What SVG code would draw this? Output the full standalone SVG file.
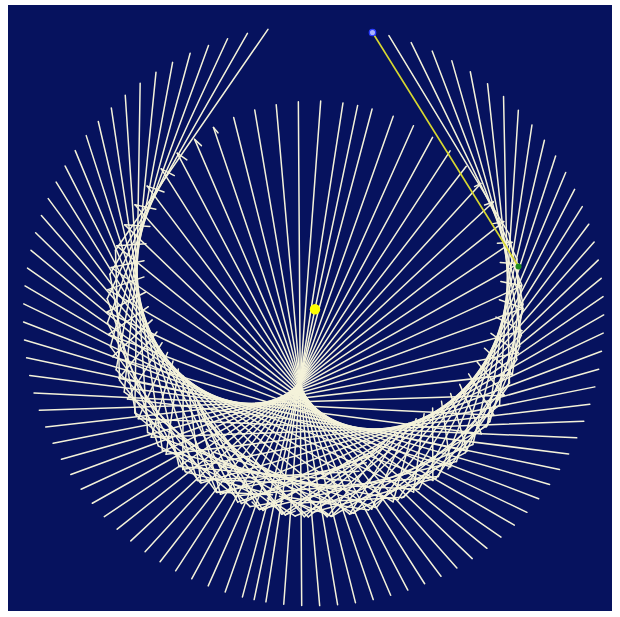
<svg xmlns="http://www.w3.org/2000/svg" width="620" height="617" viewBox="0 0 620 617">
<defs>
<g id="k37"><line x1="204.86" y1="195.5" x2="204.86" y2="-35.98" transform="rotate(-9.96)"/><line x1="204.86" y1="35.98" x2="204.86" y2="-35.98" transform="rotate(-29.88)"/><line x1="204.86" y1="35.98" x2="204.86" y2="-35.98" transform="rotate(-49.8)"/></g>
<g id="k40"><line x1="203.34" y1="197.2" x2="203.34" y2="-43.76" transform="rotate(-12.14)"/><line x1="203.34" y1="43.76" x2="203.34" y2="-43.76" transform="rotate(-36.42)"/><line x1="203.34" y1="43.76" x2="203.34" y2="-43.76" transform="rotate(-60.7)"/></g>
<g id="k43"><line x1="201.61" y1="199" x2="201.61" y2="-51.15" transform="rotate(-14.23)"/><line x1="201.61" y1="51.15" x2="201.61" y2="-51.15" transform="rotate(-42.69)"/><line x1="201.61" y1="51.15" x2="201.61" y2="-51.15" transform="rotate(-71.15)"/></g>
<g id="k46"><line x1="199.68" y1="201.1" x2="199.68" y2="-58.22" transform="rotate(-16.25)"/><line x1="199.68" y1="58.22" x2="199.68" y2="-58.22" transform="rotate(-48.75)"/><line x1="199.68" y1="58.22" x2="199.68" y2="-58.22" transform="rotate(-81.25)"/></g>
<g id="k49"><line x1="197.58" y1="203.4" x2="197.58" y2="-65" transform="rotate(-18.21)"/><line x1="197.58" y1="65" x2="197.58" y2="-65" transform="rotate(-54.63)"/><line x1="197.58" y1="65" x2="197.58" y2="-65" transform="rotate(-91.05)"/></g>
<g id="k52"><line x1="195.31" y1="205.9" x2="195.31" y2="-71.55" transform="rotate(-20.12)"/><line x1="195.31" y1="71.55" x2="195.31" y2="-71.55" transform="rotate(-60.36)"/><line x1="195.31" y1="71.55" x2="195.31" y2="-58.24" transform="rotate(-100.6)"/></g>
<g id="k55"><line x1="192.88" y1="208.5" x2="192.88" y2="-77.88" transform="rotate(-21.99)"/><line x1="192.88" y1="77.88" x2="192.88" y2="-77.88" transform="rotate(-65.97)"/><line x1="192.88" y1="77.88" x2="192.88" y2="-26.64" transform="rotate(-109.95)"/></g>
<g id="k58"><line x1="190.28" y1="211.2" x2="190.28" y2="-84.01" transform="rotate(-23.82)"/><line x1="190.28" y1="84.01" x2="190.28" y2="-84.01" transform="rotate(-71.46)"/><line x1="190.28" y1="84.01" x2="190.28" y2="4.03" transform="rotate(-119.1)"/></g>
<g id="k61"><line x1="187.53" y1="214" x2="187.53" y2="-89.96" transform="rotate(-25.63)"/><line x1="187.53" y1="89.96" x2="187.53" y2="-89.96" transform="rotate(-76.89)"/><line x1="187.53" y1="89.96" x2="187.53" y2="33.82" transform="rotate(-128.15)"/></g>
<g id="k64"><line x1="184.66" y1="216.8" x2="184.66" y2="-95.74" transform="rotate(-27.41)"/><line x1="184.66" y1="95.74" x2="184.66" y2="-95.74" transform="rotate(-82.23)"/><line x1="184.66" y1="95.74" x2="184.66" y2="62.61" transform="rotate(-137.05)"/></g>
<g id="k67"><line x1="181.63" y1="219.8" x2="181.63" y2="-101.36" transform="rotate(-29.16)"/><line x1="181.63" y1="101.36" x2="181.63" y2="-101.36" transform="rotate(-87.48)"/><line x1="181.63" y1="101.36" x2="181.63" y2="90.82" transform="rotate(-145.8)"/></g>
<g id="k70"><line x1="178.48" y1="222.8" x2="178.48" y2="-106.81" transform="rotate(-30.9)"/><line x1="178.48" y1="106.81" x2="178.48" y2="-95.49" transform="rotate(-92.7)"/></g>
<g id="k73"><line x1="175.2" y1="225.9" x2="175.2" y2="-112.11" transform="rotate(-32.62)"/><line x1="175.2" y1="112.11" x2="175.2" y2="-79.6" transform="rotate(-97.86)"/></g>
<g id="k76"><line x1="171.79" y1="228.9" x2="171.79" y2="-117.27" transform="rotate(-34.32)"/><line x1="171.79" y1="117.27" x2="171.79" y2="-64.26" transform="rotate(-102.96)"/></g>
<g id="k79"><line x1="168.25" y1="232" x2="168.25" y2="-122.3" transform="rotate(-36.01)"/><line x1="168.25" y1="122.3" x2="168.25" y2="-49.16" transform="rotate(-108.03)"/></g>
<g id="k82"><line x1="164.59" y1="235.2" x2="164.59" y2="-127.17" transform="rotate(-37.69)"/><line x1="164.59" y1="127.17" x2="164.59" y2="-34.59" transform="rotate(-113.07)"/></g>
<g id="k85"><line x1="160.8" y1="238.2" x2="160.8" y2="-131.91" transform="rotate(-39.36)"/><line x1="160.8" y1="131.91" x2="160.8" y2="-20.31" transform="rotate(-118.08)"/></g>
<g id="k88"><line x1="156.94" y1="241.3" x2="156.94" y2="-136.51" transform="rotate(-41.01)"/><line x1="156.94" y1="136.51" x2="156.94" y2="-6.55" transform="rotate(-123.03)"/></g>
<g id="k91"><line x1="152.92" y1="244.4" x2="152.92" y2="-140.98" transform="rotate(-42.67)"/><line x1="152.92" y1="140.98" x2="152.92" y2="7.05" transform="rotate(-128.01)"/></g>
<g id="k94"><line x1="148.82" y1="247.4" x2="148.82" y2="-145.31" transform="rotate(-44.32)"/><line x1="148.82" y1="145.31" x2="148.82" y2="20.05" transform="rotate(-132.96)"/></g>
<g id="k97"><line x1="144.6" y1="250.4" x2="144.6" y2="-149.51" transform="rotate(-45.95)"/><line x1="144.6" y1="149.51" x2="144.6" y2="32.59" transform="rotate(-137.85)"/></g>
<g id="k100"><line x1="140.3" y1="253.3" x2="140.3" y2="-153.57" transform="rotate(-47.59)"/><line x1="140.3" y1="153.57" x2="140.3" y2="44.69" transform="rotate(-142.77)"/></g>
<g id="k103"><line x1="135.89" y1="256.2" x2="135.89" y2="-157.48" transform="rotate(-49.21)"/><line x1="135.89" y1="157.48" x2="135.89" y2="56.44" transform="rotate(-147.63)"/></g>
<g id="k106"><line x1="131.37" y1="259" x2="131.37" y2="-161.26" transform="rotate(-50.83)"/><line x1="131.37" y1="161.26" x2="131.37" y2="67.79" transform="rotate(-152.49)"/></g>
<g id="k109"><line x1="126.78" y1="261.8" x2="126.78" y2="-164.9" transform="rotate(-52.44)"/><line x1="126.78" y1="164.9" x2="126.78" y2="78.69" transform="rotate(-157.32)"/></g>
<g id="k112"><line x1="122.08" y1="264.5" x2="122.08" y2="-168.4" transform="rotate(-54.06)"/><line x1="122.08" y1="168.4" x2="122.08" y2="89.18" transform="rotate(-162.18)"/></g>
<g id="k115"><line x1="117.31" y1="267.1" x2="117.31" y2="-171.77" transform="rotate(-55.67)"/><line x1="117.31" y1="171.77" x2="117.31" y2="99.32" transform="rotate(-167.01)"/></g>
<g id="k118"><line x1="112.47" y1="269.6" x2="112.47" y2="-174.97" transform="rotate(-57.27)"/><line x1="112.47" y1="174.97" x2="112.47" y2="108.9" transform="rotate(-171.81)"/></g>
<g id="k121"><line x1="107.54" y1="272" x2="107.54" y2="-178.05" transform="rotate(-58.87)"/><line x1="107.54" y1="178.05" x2="107.54" y2="118.15" transform="rotate(-176.61)"/></g>
<g id="k124"><line x1="102.52" y1="274.4" x2="102.52" y2="-180.98" transform="rotate(-60.47)"/><line x1="102.52" y1="180.98" x2="102.52" y2="126.94" transform="rotate(-181.41)"/></g>
<g id="k127"><line x1="97.43" y1="276.6" x2="97.43" y2="-183.77" transform="rotate(-62.07)"/><line x1="97.43" y1="183.77" x2="97.43" y2="135.29" transform="rotate(-186.21)"/></g>
<g id="k130"><line x1="92.27" y1="278.8" x2="92.27" y2="-186.41" transform="rotate(-63.67)"/><line x1="92.27" y1="186.41" x2="92.27" y2="143.24" transform="rotate(-191.01)"/></g>
<g id="k133"><line x1="87.05" y1="280.8" x2="87.05" y2="-188.88" transform="rotate(-65.26)"/><line x1="87.05" y1="188.88" x2="87.05" y2="150.65" transform="rotate(-195.78)"/></g>
<g id="k136"><line x1="81.81" y1="282.7" x2="81.81" y2="-191.24" transform="rotate(-66.84)"/><line x1="81.81" y1="191.24" x2="81.81" y2="157.7" transform="rotate(-200.52)"/></g>
<g id="k139"><line x1="76.48" y1="284.6" x2="76.48" y2="-193.42" transform="rotate(-68.43)"/><line x1="76.48" y1="193.42" x2="76.48" y2="164.25" transform="rotate(-205.29)"/></g>
<g id="k142"><line x1="71.07" y1="286.3" x2="71.07" y2="-195.46" transform="rotate(-70.02)"/><line x1="71.07" y1="195.46" x2="71.07" y2="170.36" transform="rotate(-210.06)"/></g>
<g id="k145"><line x1="65.62" y1="287.9" x2="65.62" y2="-197.35" transform="rotate(-71.61)"/><line x1="65.62" y1="197.35" x2="65.62" y2="176.04" transform="rotate(-214.83)"/></g>
<g id="k148"><line x1="60.15" y1="289.3" x2="60.15" y2="-199.1" transform="rotate(-73.19)"/><line x1="60.15" y1="199.1" x2="60.15" y2="181.3" transform="rotate(-219.57)"/></g>
<g id="k151"><line x1="54.68" y1="290.7" x2="54.68" y2="-200.68" transform="rotate(-74.76)"/><line x1="54.68" y1="200.68" x2="54.68" y2="186.03" transform="rotate(-224.28)"/></g>
<g id="k154"><line x1="49.13" y1="291.9" x2="49.13" y2="-202.11" transform="rotate(-76.34)"/><line x1="49.13" y1="202.11" x2="49.13" y2="190.35" transform="rotate(-229.02)"/></g>
<g id="k157"><line x1="43.6" y1="292.9" x2="43.6" y2="-203.38" transform="rotate(-77.9)"/><line x1="43.6" y1="203.38" x2="43.6" y2="194.15" transform="rotate(-233.7)"/></g>
<g id="k160"><line x1="37.98" y1="293.9" x2="37.98" y2="-204.51" transform="rotate(-79.48)"/><line x1="37.98" y1="204.51" x2="37.98" y2="197.5" transform="rotate(-238.44)"/></g>
<g id="k163"><line x1="32.26" y1="294.7" x2="32.26" y2="-205.48" transform="rotate(-81.08)"/></g>
<g id="k166"><line x1="26.58" y1="295.4" x2="26.58" y2="-206.29" transform="rotate(-82.66)"/></g>
<g id="k169"><line x1="20.99" y1="295.9" x2="20.99" y2="-206.94" transform="rotate(-84.21)"/></g>
<g id="k172"><line x1="15.27" y1="296.4" x2="15.27" y2="-207.44" transform="rotate(-85.79)"/></g>
<g id="k175"><line x1="9.55" y1="296.7" x2="9.55" y2="-207.78" transform="rotate(-87.37)"/></g>
<g id="k178"><line x1="3.81" y1="296.9" x2="3.81" y2="-207.97" transform="rotate(-88.95)"/></g>
<g id="k180"><line x1="0" y1="296.9" x2="0" y2="-208" transform="rotate(-90)"/></g>
</defs>
<rect x="0" y="0" width="620" height="617" fill="#ffffff"/>
<rect id="panel" x="8" y="5" width="604" height="606" fill="#06125e"/>
<g id="rays" stroke="#f4f2da" stroke-width="1.5" stroke-linecap="round" fill="none">
<g id="left-rays">
<use href="#k49" transform="translate(315 309) rotate(-127.17)"/>
<use href="#k52" transform="translate(315 309) rotate(-130.17)"/>
<use href="#k55" transform="translate(315 309) rotate(-133.17)"/>
<use href="#k58" transform="translate(315 309) rotate(-136.17)"/>
<use href="#k61" transform="translate(315 309) rotate(-139.17)"/>
<use href="#k64" transform="translate(315 309) rotate(-142.17)"/>
<use href="#k67" transform="translate(315 309) rotate(-145.17)"/>
<use href="#k70" transform="translate(315 309) rotate(-148.17)"/>
<use href="#k73" transform="translate(315 309) rotate(-151.17)"/>
<use href="#k76" transform="translate(315 309) rotate(-154.17)"/>
<use href="#k79" transform="translate(315 309) rotate(-157.17)"/>
<use href="#k82" transform="translate(315 309) rotate(-160.17)"/>
<use href="#k85" transform="translate(315 309) rotate(-163.17)"/>
<use href="#k88" transform="translate(315 309) rotate(-166.17)"/>
<use href="#k91" transform="translate(315 309) rotate(-169.17)"/>
<use href="#k94" transform="translate(315 309) rotate(-172.17)"/>
<use href="#k97" transform="translate(315 309) rotate(-175.17)"/>
<use href="#k100" transform="translate(315 309) rotate(-178.17)"/>
<use href="#k103" transform="translate(315 309) rotate(-181.17)"/>
<use href="#k106" transform="translate(315 309) rotate(-184.17)"/>
<use href="#k109" transform="translate(315 309) rotate(-187.17)"/>
<use href="#k112" transform="translate(315 309) rotate(-190.17)"/>
<use href="#k115" transform="translate(315 309) rotate(-193.17)"/>
<use href="#k118" transform="translate(315 309) rotate(-196.17)"/>
<use href="#k121" transform="translate(315 309) rotate(-199.17)"/>
<use href="#k124" transform="translate(315 309) rotate(-202.17)"/>
<use href="#k127" transform="translate(315 309) rotate(-205.17)"/>
<use href="#k130" transform="translate(315 309) rotate(-208.17)"/>
<use href="#k133" transform="translate(315 309) rotate(-211.17)"/>
<use href="#k136" transform="translate(315 309) rotate(-214.17)"/>
<use href="#k139" transform="translate(315 309) rotate(-217.17)"/>
<use href="#k142" transform="translate(315 309) rotate(-220.17)"/>
<use href="#k145" transform="translate(315 309) rotate(-223.17)"/>
<use href="#k148" transform="translate(315 309) rotate(-226.17)"/>
<use href="#k151" transform="translate(315 309) rotate(-229.17)"/>
<use href="#k154" transform="translate(315 309) rotate(-232.17)"/>
<use href="#k157" transform="translate(315 309) rotate(-235.17)"/>
<use href="#k160" transform="translate(315 309) rotate(-238.17)"/>
<use href="#k163" transform="translate(315 309) rotate(-241.17)"/>
<use href="#k166" transform="translate(315 309) rotate(-244.17)"/>
<use href="#k169" transform="translate(315 309) rotate(-247.17)"/>
<use href="#k172" transform="translate(315 309) rotate(-250.17)"/>
<use href="#k175" transform="translate(315 309) rotate(-253.17)"/>
<use href="#k178" transform="translate(315 309) rotate(-256.17)"/>
<use href="#k180" transform="translate(315 309) rotate(-258.17)"/>
</g>
<g id="right-rays">
<use href="#k37" transform="translate(315 309) rotate(-41.17) scale(1 -1)"/>
<use href="#k40" transform="translate(315 309) rotate(-38.17) scale(1 -1)"/>
<use href="#k43" transform="translate(315 309) rotate(-35.17) scale(1 -1)"/>
<use href="#k46" transform="translate(315 309) rotate(-32.17) scale(1 -1)"/>
<use href="#k49" transform="translate(315 309) rotate(-29.17) scale(1 -1)"/>
<use href="#k52" transform="translate(315 309) rotate(-26.17) scale(1 -1)"/>
<use href="#k55" transform="translate(315 309) rotate(-23.17) scale(1 -1)"/>
<use href="#k58" transform="translate(315 309) rotate(-20.17) scale(1 -1)"/>
<use href="#k61" transform="translate(315 309) rotate(-17.17) scale(1 -1)"/>
<use href="#k64" transform="translate(315 309) rotate(-14.17) scale(1 -1)"/>
<use href="#k67" transform="translate(315 309) rotate(-11.17) scale(1 -1)"/>
<use href="#k70" transform="translate(315 309) rotate(-8.17) scale(1 -1)"/>
<use href="#k73" transform="translate(315 309) rotate(-5.17) scale(1 -1)"/>
<use href="#k76" transform="translate(315 309) rotate(-2.17) scale(1 -1)"/>
<use href="#k79" transform="translate(315 309) rotate(0.83) scale(1 -1)"/>
<use href="#k82" transform="translate(315 309) rotate(3.83) scale(1 -1)"/>
<use href="#k85" transform="translate(315 309) rotate(6.83) scale(1 -1)"/>
<use href="#k88" transform="translate(315 309) rotate(9.83) scale(1 -1)"/>
<use href="#k91" transform="translate(315 309) rotate(12.83) scale(1 -1)"/>
<use href="#k94" transform="translate(315 309) rotate(15.83) scale(1 -1)"/>
<use href="#k97" transform="translate(315 309) rotate(18.83) scale(1 -1)"/>
<use href="#k100" transform="translate(315 309) rotate(21.83) scale(1 -1)"/>
<use href="#k103" transform="translate(315 309) rotate(24.83) scale(1 -1)"/>
<use href="#k106" transform="translate(315 309) rotate(27.83) scale(1 -1)"/>
<use href="#k109" transform="translate(315 309) rotate(30.83) scale(1 -1)"/>
<use href="#k112" transform="translate(315 309) rotate(33.83) scale(1 -1)"/>
<use href="#k115" transform="translate(315 309) rotate(36.83) scale(1 -1)"/>
<use href="#k118" transform="translate(315 309) rotate(39.83) scale(1 -1)"/>
<use href="#k121" transform="translate(315 309) rotate(42.83) scale(1 -1)"/>
<use href="#k124" transform="translate(315 309) rotate(45.83) scale(1 -1)"/>
<use href="#k127" transform="translate(315 309) rotate(48.83) scale(1 -1)"/>
<use href="#k130" transform="translate(315 309) rotate(51.83) scale(1 -1)"/>
<use href="#k133" transform="translate(315 309) rotate(54.83) scale(1 -1)"/>
<use href="#k136" transform="translate(315 309) rotate(57.83) scale(1 -1)"/>
<use href="#k139" transform="translate(315 309) rotate(60.83) scale(1 -1)"/>
<use href="#k142" transform="translate(315 309) rotate(63.83) scale(1 -1)"/>
<use href="#k145" transform="translate(315 309) rotate(66.83) scale(1 -1)"/>
<use href="#k148" transform="translate(315 309) rotate(69.83) scale(1 -1)"/>
<use href="#k151" transform="translate(315 309) rotate(72.83) scale(1 -1)"/>
<use href="#k154" transform="translate(315 309) rotate(75.83) scale(1 -1)"/>
<use href="#k157" transform="translate(315 309) rotate(78.83) scale(1 -1)"/>
<use href="#k160" transform="translate(315 309) rotate(81.83) scale(1 -1)"/>
<use href="#k163" transform="translate(315 309) rotate(84.83) scale(1 -1)"/>
<use href="#k166" transform="translate(315 309) rotate(87.83) scale(1 -1)"/>
<use href="#k169" transform="translate(315 309) rotate(90.83) scale(1 -1)"/>
<use href="#k172" transform="translate(315 309) rotate(93.83) scale(1 -1)"/>
<use href="#k175" transform="translate(315 309) rotate(96.83) scale(1 -1)"/>
<use href="#k178" transform="translate(315 309) rotate(99.83) scale(1 -1)"/>
</g>
</g>
<g id="incident-ray">
<line x1="372.5" y1="32.5" x2="518.5" y2="266.5" stroke="#d8d830" stroke-width="1.6"/>
</g>
<g id="center-point"><circle cx="315" cy="309.3" r="5.2" fill="#ffff00"/></g>
<g id="reflection-point"><circle cx="518.5" cy="266.5" r="3" fill="#1c8a1c"/></g>
<g id="source-point"><circle cx="372.5" cy="32.5" r="3.2" fill="#a8b4ff" stroke="#2a3cff" stroke-width="1.3"/></g>
</svg>
